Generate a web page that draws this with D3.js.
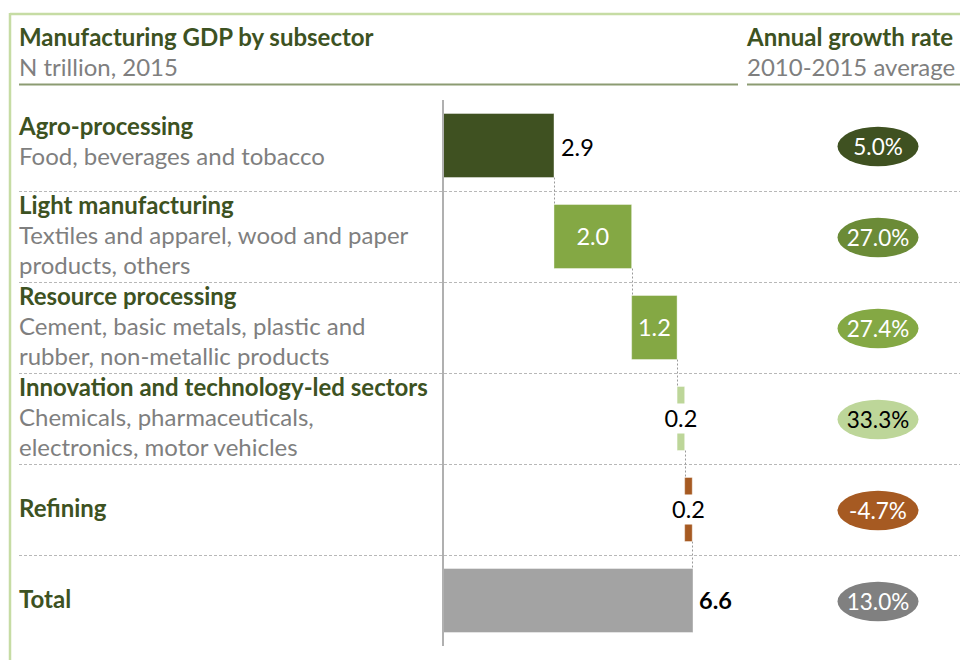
<!DOCTYPE html>
<html>
<head>
<meta charset="utf-8">
<script src="https://cdn.jsdelivr.net/npm/d3@7"></script>
<style>
  html, body { margin: 0; padding: 0; background: #fff; }
  svg { display: block; }
  text { font-family: Lato, "Noto Sans", sans-serif; }
</style>
</head>
<body>
<svg id="chart" width="960" height="660"></svg>
<script>
// ---- data ----
const categories = ["Agro-processing", "Light manufacturing", "Resource processing",
  "Innovation and technology-led sectors", "Refining", "Total"];
const descriptions = [
  ["Food, beverages and tobacco"],
  ["Textiles and apparel, wood and paper", "products, others"],
  ["Cement, basic metals, plastic and", "rubber, non-metallic products"],
  ["Chemicals, pharmaceuticals,", "electronics, motor vehicles"],
  [],
  []
];
const gdpValues = [2.93, 2.05, 1.2, 0.2, 0.2];   // N trillion, 2015
const gdpTotal = 6.6;
const growthRates = [5.0, 27.0, 27.4, 33.3, -4.7, 13.0]; // % 2010-2015 average

// ---- styles ----
const barColors = ["#3f5121", "#84a844", "#84a844", "#bdd699", "#a65a22", "#a3a3a3"];
const ovalColors = ["#3f5121", "#6b8b37", "#84a844", "#bdd699", "#a65a22", "#808080"];
const ovalText = ["#fff", "#fff", "#fff", "#000", "#fff", "#fff"];
const darkGreen = "#3d5222";
const grey = "#7f7f7f";
const FS_B = 24, FS_R = 24, FS_L = 23.5, FS_O = 22.5;

const svg = d3.select("#chart");
const loc = d3.formatLocale({ decimal: ".", thousands: ",", grouping: [3], currency: ["", ""], minus: "-" });
const fmt = loc.format(".1f");

// frame
svg.append("line").attr("x1", 10).attr("x2", 960).attr("y1", 14).attr("y2", 14)
  .attr("stroke", "#c6dca4").attr("stroke-width", 2.5);
svg.append("line").attr("x1", 10).attr("x2", 10).attr("y1", 13).attr("y2", 660)
  .attr("stroke", "#c6dca4").attr("stroke-width", 2.5);

// headers
svg.append("text").attr("x", 19).attr("y", 46).attr("fill", darkGreen)
  .attr("font-weight", "bold").attr("font-size", FS_B).text("Manufacturing GDP by subsector");
svg.append("text").attr("x", 19).attr("y", 76).attr("fill", grey)
  .attr("font-size", FS_R).text("N trillion, 2015");
svg.append("text").attr("x", 747).attr("y", 46).attr("fill", darkGreen)
  .attr("font-weight", "bold").attr("font-size", FS_B).text("Annual growth rate");
svg.append("text").attr("x", 747).attr("y", 76).attr("fill", grey)
  .attr("font-size", FS_R).text("2010-2015 average");
svg.append("line").attr("x1", 19).attr("x2", 738).attr("y1", 84.5).attr("y2", 84.5)
  .attr("stroke", "#8c9b72").attr("stroke-width", 2);
svg.append("line").attr("x1", 747).attr("x2", 960).attr("y1", 84.5).attr("y2", 84.5)
  .attr("stroke", "#8c9b72").attr("stroke-width", 2);

// scales
const y = d3.scaleBand().domain(categories).range([100, 646]).padding(0);
const x = d3.scaleLinear().domain([0, gdpTotal]).range([443, 693]);
const barH = 64;
const bw = y.bandwidth();

// row separators
svg.append("g").selectAll("line").data(categories.slice(1)).join("line")
  .attr("x1", 19).attr("x2", 960)
  .attr("y1", d => Math.round(y(d)) + 0.5).attr("y2", d => Math.round(y(d)) + 0.5)
  .attr("stroke", "#b8b8b8").attr("stroke-width", 1).attr("stroke-dasharray", "3,2");

// left labels
categories.forEach((c, i) => {
  const lines = descriptions[i];
  const n = lines.length + 1;
  const cy = y(c) + bw / 2;
  const first = n === 1 ? cy + 7 : (n === 2 ? cy - 11 : cy - 23);
  const g = svg.append("g");
  g.append("text").attr("x", 19).attr("y", first).attr("fill", darkGreen)
    .attr("font-weight", "bold").attr("font-size", FS_B).text(c);
  lines.forEach((l, j) => {
    g.append("text").attr("x", 19).attr("y", first + 30 * (j + 1)).attr("fill", grey)
      .attr("font-size", FS_R).text(l);
  });
});

// waterfall data
let cum = 0;
const bars = gdpValues.map((v, i) => {
  const b = { cat: categories[i], start: cum, end: cum + v, value: v, i };
  cum += v;
  return b;
});
bars.push({ cat: categories[5], start: 0, end: gdpTotal, value: gdpTotal, i: 5 });

// connectors
const conn = svg.append("g");
bars.slice(0, -1).forEach((b, k) => {
  const next = bars[k + 1];
  const xe = Math.round(x(b.end)) + 0.5;
  conn.append("line").attr("x1", xe).attr("x2", xe)
    .attr("y1", y(b.cat) + (bw - barH) / 2 + barH)
    .attr("y2", y(next.cat) + (bw - barH) / 2)
    .attr("stroke", "#9a9a9a").attr("stroke-width", 1).attr("stroke-dasharray", "2,2");
});

// bars
svg.append("g").selectAll("rect").data(bars).join("rect")
  .attr("x", d => x(d.start))
  .attr("width", d => x(d.end) - x(d.start))
  .attr("y", d => y(d.cat) + (bw - barH) / 2)
  .attr("height", barH)
  .attr("fill", d => barColors[d.i])
  .attr("stroke", "#ffffff").attr("stroke-opacity", 0.4).attr("stroke-width", 1);

// axis line
svg.append("line").attr("x1", 443).attr("x2", 443).attr("y1", 100).attr("y2", 646)
  .attr("stroke", "#b0b0b0").attr("stroke-width", 2);

// bar labels
bars.forEach(b => {
  const cy = y(b.cat) + bw / 2;
  const w = x(b.end) - x(b.start);
  if (b.i === 5) {
    svg.append("text").attr("x", x(b.end) + 6).attr("y", cy).attr("dy", "0.35em")
      .attr("font-size", FS_L).attr("font-weight", "bold").attr("fill", "#000").text(fmt(b.value));
  } else if (b.i === 0) {
    svg.append("text").attr("x", x(b.end) + 7).attr("y", cy + 2).attr("dy", "0.35em")
      .attr("font-size", FS_L).attr("fill", "#000").text(fmt(b.value));
  } else if (w > 40) {
    svg.append("text").attr("x", (x(b.start) + x(b.end)) / 2).attr("y", cy).attr("dy", "0.35em")
      .attr("text-anchor", "middle").attr("font-size", FS_L).attr("fill", "#fff").text(fmt(b.value));
  } else {
    const mx = (x(b.start) + x(b.end)) / 2;
    svg.append("rect").attr("x", mx - 16).attr("y", cy - 15).attr("width", 32).attr("height", 30)
      .attr("fill", "#fff");
    svg.append("text").attr("x", mx).attr("y", cy).attr("dy", "0.35em")
      .attr("text-anchor", "middle").attr("font-size", FS_L).attr("fill", "#000").text(fmt(b.value));
  }
});

// growth ovals
const og = svg.append("g").selectAll("g").data(growthRates).join("g")
  .attr("transform", (d, i) => `translate(878,${y(categories[i]) + bw / 2 + 1})`);
og.append("ellipse").attr("rx", 40.5).attr("ry", 19.7).attr("fill", (d, i) => ovalColors[i]);
og.append("text").attr("text-anchor", "middle").attr("dy", "0.36em")
  .attr("font-size", FS_O).attr("fill", (d, i) => ovalText[i])
  .text(d => fmt(d) + "%");
</script>
</body>
</html>
